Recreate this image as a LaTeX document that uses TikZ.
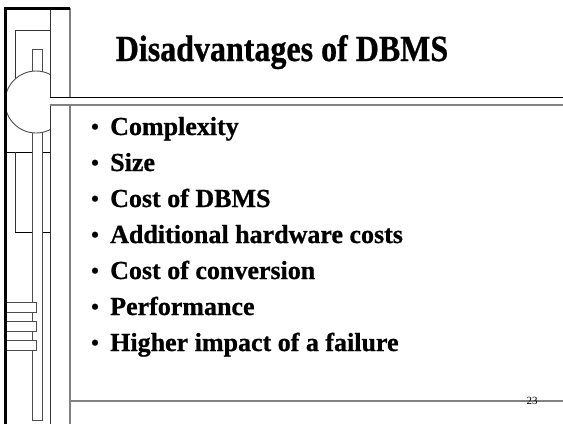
\documentclass[tikz,border=0pt]{standalone}
\usepackage{fontspec}
\setmainfont{Liberation Serif}
\newfontfamily\heavyserif{Liberation Serif Bold}[FakeBold=0.8]
\usetikzlibrary{positioning}
\tikzstyle{heavyrule}=[draw=black,line width=3pt]
\tikzstyle{thinrule}=[draw=black!80,line width=0.9pt]
\tikzstyle{grayrule}=[draw=black!50,line width=1.4pt]
\tikzstyle{patch}=[fill=white,draw=black!70,line width=0.9pt]
\tikzstyle{slidetitle}=[font=\heavyserif\fontsize{32}{38}\selectfont,inner sep=0pt,anchor=base]
\tikzstyle{itemtext}=[font=\heavyserif\fontsize{26}{30}\selectfont,inner sep=0pt,anchor=base west]
\tikzstyle{bulletmark}=[font=\heavyserif\fontsize{22}{26}\selectfont,inner sep=0pt,anchor=base]
\tikzstyle{pagenum}=[font=\fontsize{11}{12}\selectfont,inner sep=0pt]

\begin{document}
\begin{tikzpicture}[x=1pt,y=-1pt]
  \useasboundingbox (0,0) rectangle (563,424);

  % left side strips
  \draw[grayrule] (70,8) -- (70,424);
  \draw[thinrule] (50,8) -- (50,424);
  \draw[thinrule] (15,100) -- (15,30) -- (50,30);
  \draw[thinrule,draw=black] (5,152) -- (50,152);
  \draw[thinrule] (15,152) -- (15,232);
  \draw[thinrule,draw=black] (15,232) -- (50,232);
  \draw[patch] (32,49) rectangle (42,420);

  % half disc, cut by the rule
  \begin{scope}
    \clip (0,0) rectangle (50,424);
    \draw[patch] (36,102) circle (31);
  \end{scope}
  \draw[thinrule] (50,60) -- (50,140);

  \foreach \y in {302,321,340}
     \draw[patch] (5,\y) rectangle (36,\y+10);

  % title bar
  \fill[white] (50,97) rectangle (563,105);
  \draw[thinrule,draw=black] (50,97) -- (563,97);
  \draw[grayrule] (50,105) -- (563,105);
  \draw[grayrule] (70,401) -- (563,401);

  \draw[heavyrule] (5,424) -- (5,8) -- (70,8);

  \node[slidetitle] (heading) at (282,61) {\scalebox{1}[1.15]{Disadvantages of DBMS}};

  \foreach \n/\label in {1/Complexity, 2/Size, 3/Cost of DBMS, 4/Additional hardware costs,
                         5/Cost of conversion, 6/Performance, 7/Higher impact of a failure}
  {
     \node[bulletmark] (b\n) at (95, 98+36*\n) {•};
     \node[itemtext] (i\n) at (110, 99+36*\n) {\label};
  }

  \node[pagenum] (page) at (532,401) {23};
\end{tikzpicture}
\end{document}
